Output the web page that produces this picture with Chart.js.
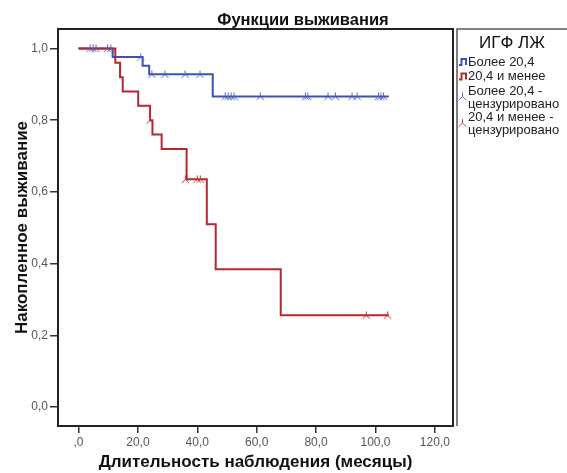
<!DOCTYPE html>
<html><head><meta charset="utf-8">
<script src="https://cdn.jsdelivr.net/npm/chart.js@4.4.1/dist/chart.umd.min.js"></script>
<style>html,body{margin:0;padding:0;background:#fff;}canvas{display:block;}</style>
</head><body>
<canvas id="c" width="567" height="473"></canvas>
<script>
// ---- data ----
const chartTitle = "Функции выживания";
const xTitle = "Длительность наблюдения (месяцы)";
const yTitle = "Накопленное выживание";
const legendTitle = "ИГФ ЛЖ";
const seriesNames = ["Более 20,4", "20,4 и менее"];
const censoredNames = [["Более 20,4 -", "цензурировано"], ["20,4 и менее -", "цензурировано"]];

const xTickValues = [0, 20, 40, 60, 80, 100, 120];
const xTickLabels = [",0", "20,0", "40,0", "60,0", "80,0", "100,0", "120,0"];
const yTickValues = [0, 0.2, 0.4, 0.6, 0.8, 1.0];
const yTickLabels = ["0,0", "0,2", "0,4", "0,6", "0,8", "1,0"];

// "Более 20,4" survival steps
const blueTimes = [0, 11.5, 21.6, 23.8, 45.2, 104.5];
const blueSurv  = [1.0, 0.976, 0.952, 0.928, 0.866, 0.866];
// "20,4 и менее" survival steps
const redTimes = [0, 12.4, 14.0, 14.9, 20.1, 24.1, 24.9, 28.0, 36.4, 43.2, 46.2, 68.1, 104.5];
const redSurv  = [1.0, 0.96, 0.92, 0.88, 0.84, 0.80, 0.76, 0.72, 0.635, 0.51, 0.384, 0.256, 0.256];

// censored observations
const blueCensT = [3.9, 4.9, 5.9, 9.8, 10.9, 21.0, 24.7, 29.1, 35.9, 40.9, 49.4, 50.4, 51.4, 52.4, 61.2, 76.4, 77.2, 84.0, 86.5, 92.1, 93.8, 101.0, 101.8, 102.7];
const blueCensS = [1.0, 1.0, 1.0, 1.0, 1.0, 0.976, 0.928, 0.928, 0.928, 0.928, 0.866, 0.866, 0.866, 0.866, 0.866, 0.866, 0.866, 0.866, 0.866, 0.866, 0.866, 0.866, 0.866, 0.866];
const redCensT = [24.1, 36.0, 40.0, 41.0, 96.9, 104.1];
const redCensS = [0.80, 0.635, 0.635, 0.635, 0.256, 0.256];

const blueColor = "#3c52b2";
const redColor = "#b3282e";
const blueCensColor = "#5064c0";
const redCensColor = "#c0353a";

function pts(t, s) { return t.map((v, i) => ({x: v, y: s[i]})); }

function censorGlyph(color) {
  const c = document.createElement("canvas");
  c.width = 9; c.height = 9;
  const g = c.getContext("2d");
  g.strokeStyle = color; g.lineWidth = 1;
  g.beginPath();
  g.moveTo(4.5, 0.5); g.lineTo(4.5, 4.5);
  g.moveTo(0.8, 8); g.lineTo(4.5, 4.5); g.lineTo(8.2, 8);
  g.stroke();
  return c;
}
const blueGlyph = censorGlyph(blueCensColor);
const redGlyph = censorGlyph(redCensColor);

const FONT = "'Liberation Sans', Arial, sans-serif";

const decor = {
  id: "decor",
  afterDraw(chart) {
    const ctx = chart.ctx, a = chart.chartArea;
    ctx.save();
    // frame
    ctx.strokeStyle = "#222"; ctx.lineWidth = 2;
    ctx.strokeRect(a.left, a.top, a.right - a.left, a.bottom - a.top);
    // title
    ctx.fillStyle = "#111";
    ctx.font = "bold 16.5px " + FONT;
    ctx.textAlign = "center"; ctx.textBaseline = "middle";
    ctx.fillText(chartTitle, 303, 20);
    // legend box border
    ctx.strokeStyle = "#555"; ctx.lineWidth = 1.5;
    ctx.beginPath();
    ctx.moveTo(457, a.bottom); ctx.lineTo(457, a.top); ctx.lineTo(567, a.top);
    ctx.stroke();
    // legend title
    ctx.fillStyle = "#111";
    ctx.font = "17px " + FONT;
    ctx.fillText(legendTitle, 512, 43);
    // legend entries
    ctx.textAlign = "left";
    ctx.font = "13px " + FONT;
    ctx.fillStyle = "#222";
    const lineCols = [blueColor, redColor];
    const rowY = [62, 76.5];
    for (let i = 0; i < 2; i++) {
      const y = rowY[i];
      ctx.strokeStyle = lineCols[i]; ctx.lineWidth = 2;
      ctx.beginPath();
      ctx.moveTo(459, y + 3); ctx.lineTo(461.5, y + 3); ctx.lineTo(461.5, y - 3);
      ctx.lineTo(466, y - 3); ctx.lineTo(466, y + 3);
      ctx.stroke();
      ctx.fillText(seriesNames[i], 468, y);
    }
    const glyphs = [blueGlyph, redGlyph];
    const censY = [[91, 104], [117.5, 130.5]];
    for (let i = 0; i < 2; i++) {
      ctx.drawImage(glyphs[i], 458, censY[i][0] + 1);
      ctx.fillText(censoredNames[i][0], 468, censY[i][0]);
      ctx.fillText(censoredNames[i][1], 468, censY[i][1]);
    }
    ctx.restore();
  }
};

new Chart(document.getElementById("c"), {
  type: "scatter",
  data: {
    datasets: [
      {label: censoredNames[0].join(" "), data: pts(blueCensT, blueCensS), showLine: false,
       pointStyle: blueGlyph, pointRadius: 4, order: 0},
      {label: censoredNames[1].join(" "), data: pts(redCensT, redCensS), showLine: false,
       pointStyle: redGlyph, pointRadius: 4, order: 1},
      {label: seriesNames[1], data: pts(redTimes, redSurv), showLine: true, stepped: "before",
       borderColor: redColor, borderWidth: 2, pointRadius: 0, fill: false, order: 2},
      {label: seriesNames[0], data: pts(blueTimes, blueSurv), showLine: true, stepped: "before",
       borderColor: blueColor, borderWidth: 2, pointRadius: 0, fill: false, order: 3}
    ]
  },
  options: {
    responsive: false,
    animation: false,
    layout: {padding: {top: 29, right: 114, left: 0, bottom: 0}},
    plugins: {legend: {display: false}, tooltip: {enabled: false}, title: {display: false}},
    scales: {
      x: {
        type: "linear", min: -6.9, max: 126.1,
        afterBuildTicks: s => { s.ticks = xTickValues.map(v => ({value: v})); },
        afterFit: s => { s.height = 47; },
        ticks: {
          autoSkip: false, maxRotation: 0, padding: 2, color: "#555",
          font: {family: FONT, size: 12},
          callback: (v) => xTickLabels[xTickValues.indexOf(v)]
        },
        grid: {display: true, drawOnChartArea: false, drawTicks: true, tickLength: 7, color: "#333", lineWidth: 1.5},
        border: {display: false},
        title: {display: true, text: xTitle, color: "#111", padding: {top: 0, bottom: 0},
                font: {family: FONT, size: 17, weight: "bold", lineHeight: 1.2}}
      },
      y: {
        type: "linear", min: -0.053, max: 1.0544,
        afterBuildTicks: s => { s.ticks = yTickValues.map(v => ({value: v})); },
        afterFit: s => { s.width = 58; },
        ticks: {
          autoSkip: false, padding: 2, color: "#555",
          font: {family: FONT, size: 12},
          callback: (v) => yTickLabels[yTickValues.indexOf(v)]
        },
        grid: {display: true, drawOnChartArea: false, drawTicks: true, tickLength: 8, color: "#333", lineWidth: 1.5},
        border: {display: false},
        title: {display: true, text: yTitle, color: "#111", padding: {top: 12, bottom: 0},
                font: {family: FONT, size: 17, weight: "bold", lineHeight: 1.2}}
      }
    }
  },
  plugins: [decor]
});
</script>
</body></html>
